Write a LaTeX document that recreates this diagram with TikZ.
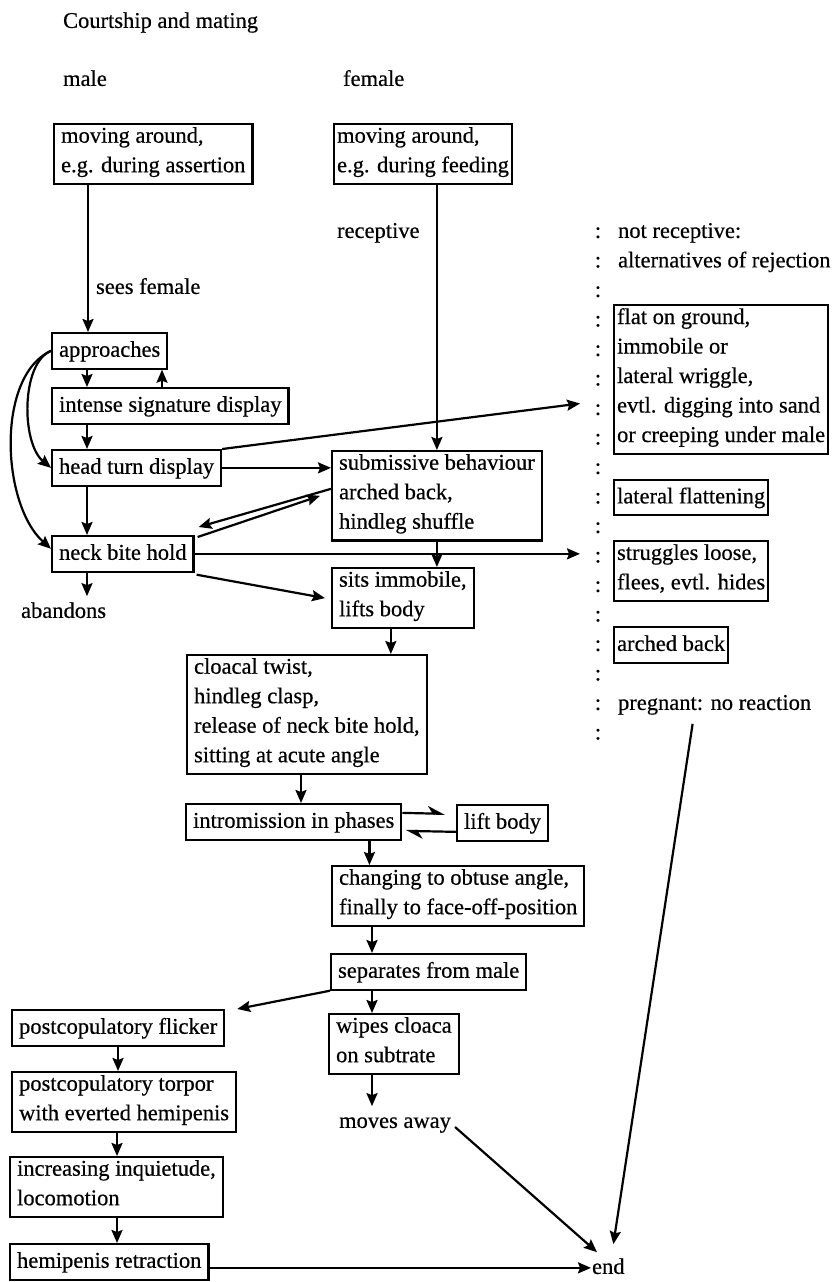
\documentclass[tikz,border=0pt]{standalone}
\usepackage{fontspec}
\setmainfont{Liberation Serif}[FakeBold=0.5]
\usetikzlibrary{arrows.meta,positioning,calc}

\begin{document}
\begin{tikzpicture}[x=1pt, y=-1pt, >={Stealth[length=13pt,width=11pt,inset=2pt]}, line width=2.2pt,
  every node/.style={font=\fontsize{22.5}{29.5}\selectfont},
  block/.style={rectangle, draw, line width=2.2pt, align=left, anchor=north west,
    inner xsep=7pt, inner ysep=3pt,
    execute at begin node=\strut, execute at end node=\strut},
  tight/.style={block, inner xsep=3pt},
  txt/.style={inner sep=0pt, anchor=west, execute at begin node=\strut},
  colonmark/.style={inner sep=0pt, execute at begin node=\strut},
  harp/.style={-{Stealth[length=15pt,width=15pt,harpoon]}}
]
\useasboundingbox (0,0) rectangle (838,1282);

% Title and column heads
\node[txt] (title) at (62,22) {Courtship and mating};
\node[txt] (malehead) at (62,80) {male};
\node[txt] (femalehead) at (342,80) {female};

% Male column
\node[block] (malemove) at (53,123) {moving around,\\e.g. during assertion};
\node[txt] (sees) at (95,288) {sees female};
\node[block] (approach) at (51,332) {approaches};
\node[block] (intense) at (51,387) {intense signature display};
\node[block] (headturn) at (51,449) {head turn display};
\node[block] (neckbite) at (51,535) {neck bite hold};
\node[txt] (abandons) at (20,612) {abandons};

% Female column
\node[tight] (femalemove) at (333,123) {moving around,\\e.g. during feeding};
\node[txt] (receptive) at (336,232) {receptive};
\node[block] (submissive) at (331,450) {submissive behaviour\\arched back,\\hindleg shuffle};
\node[block] (sits) at (331,567) {sits immobile,\\lifts body};
\node[block] (cloacal) at (186,654) {cloacal twist,\\hindleg clasp,\\release of neck bite hold,\\sitting at acute angle};
\node[block] (intro) at (185,803) {intromission in phases};
\node[block] (liftbody) at (456,804) {lift body};
\node[block] (changing) at (331,865) {changing to obtuse angle,\\finally to face-off-position};
\node[block] (separates) at (330,953) {separates from male};
\node[block] (wipes) at (328,1013) {wipes cloaca\\on subtrate};
\node[txt] (movesaway) at (338,1122) {moves away};

% After copulation (male)
\node[block] (flicker) at (11,1009) {postcopulatory flicker};
\node[block] (torpor) at (11,1071) {postcopulatory torpor\\with everted hemipenis};
\node[block] (inquietude) at (9,1156) {increasing inquietude,\\locomotion};
\node[block] (retraction) at (9,1243) {hemipenis retraction};
\node[txt] (theend) at (591,1268) {end};

% Rejection column
\foreach \k in {0,...,17}
  \node[colonmark] (col\k) at (598,232+29.5*\k) {:};
\node[txt] (notrec) at (617,232) {not receptive:};
\node[txt] (altern) at (617,261.5) {alternatives of rejection};
\node[tight, anchor=west] (flat) at (613,379.5) {flat on ground,\\immobile or\\lateral wriggle,\\evtl. digging into sand\\or creeping under male};
\node[tight, anchor=west] (flatten) at (613,497.5) {lateral flattening};
\node[tight, anchor=west] (struggles) at (613,571.25) {struggles loose,\\flees, evtl. hides};
\node[tight, anchor=west] (archedback) at (613,645) {arched back};
\node[txt] (pregnant) at (617,704) {pregnant: no reaction};

% Arrows - male approach
\draw[->] ([xshift=35]malemove.south west) -- ([xshift=37]approach.north west);
\draw[->] ([xshift=36]approach.south west) -- ([xshift=36]intense.north west);
\draw[->] ([xshift=111]intense.north west) -- ([xshift=111]approach.south west);
\draw[->] ([xshift=36]intense.south west) -- ([xshift=36]headturn.north west);
\draw[->] ([xshift=36]headturn.south west) -- ([xshift=36]neckbite.north west);
\draw[->] ([xshift=36]neckbite.south west) coordinate (nb) -- (nb |- abandons.north);

% Arrows - shortcuts from approaches
\draw[->] (approach.west) .. controls +(-30,12) and +(-30,-25) .. (headturn.west);
\draw[->] (approach.west) .. controls +(-55,25) and +(-50,-45) .. ($(neckbite.west)+(0,-5)$);

% Arrows - female receptive
\draw[->] (femalemove.south -| submissive.north) -- (submissive.north);

% Arrows - between male and female
\draw[->] (headturn.east) -- (headturn.east -| submissive.west);
\draw[->] (headturn.north east) -- ($(flat.west)+(-33,24)$);
\draw[->] ($(submissive.west)+(0,-7)$) -- ($(neckbite.north east)+(4,-8)$);
\draw[->] ($(neckbite.north east)+(3,2)$) -- ($(submissive.west)+(-11,0)$);
\draw[->] (neckbite.east) -- ($(neckbite.east -| struggles.west)+(-33,0)$);
\draw[->] ($(neckbite.south east)+(2,2)$) -- ($(sits.west)+(-6,0)$);

% Arrows - mating sequence
\draw[->] (submissive.south) -- (submissive.south |- sits.north);
\draw[->] ([xshift=-12]sits.south) coordinate (sc) -- (sc |- cloacal.north);
\draw[->] ([xshift=115]cloacal.south west) coordinate (ci) -- (ci |- intro.north);
\draw[harp] ($(intro.east)+(0,-9)$) -- ($(liftbody.west)+(-11,-9)$);
\draw[harp] ($(liftbody.west)+(0,9)$) -- ($(intro.east)+(3,9)$);
\draw[->] ([xshift=-33]intro.south east) coordinate (ic) -- (ic |- changing.north);
\draw[->] ([xshift=41]changing.south west) coordinate (cs) -- (cs |- separates.north);

% Arrows - separation
\draw[->] ([xshift=42]separates.south west) coordinate (sw) -- (sw |- wipes.north);
\draw[->] ([xshift=44]wipes.south west) coordinate (wm) -- (wm |- movesaway.north);
\draw[->] (separates.south west) -- ($(flicker.north east)+(12,0)$);
\draw[->] ([xshift=107]flicker.south west) coordinate (ft) -- (ft |- torpor.north);
\draw[->] ([xshift=106]torpor.south west) coordinate (ti) -- (ti |- inquietude.north);
\draw[->] ([xshift=108]inquietude.south west) coordinate (ir) -- (ir |- retraction.north);

% Arrows - to the end
\draw[->] ($(retraction.east)+(0,6)$) coordinate (re) -- (re -| theend.west);
\draw[->] ($(movesaway.east)+(3,5)$) -- ($(theend.north west)+(6,0)$);
\draw[->] ($(pregnant.south)+(-22,4)$) -- ($(theend.north)+(5,-8)$);

\end{tikzpicture}
\end{document}
